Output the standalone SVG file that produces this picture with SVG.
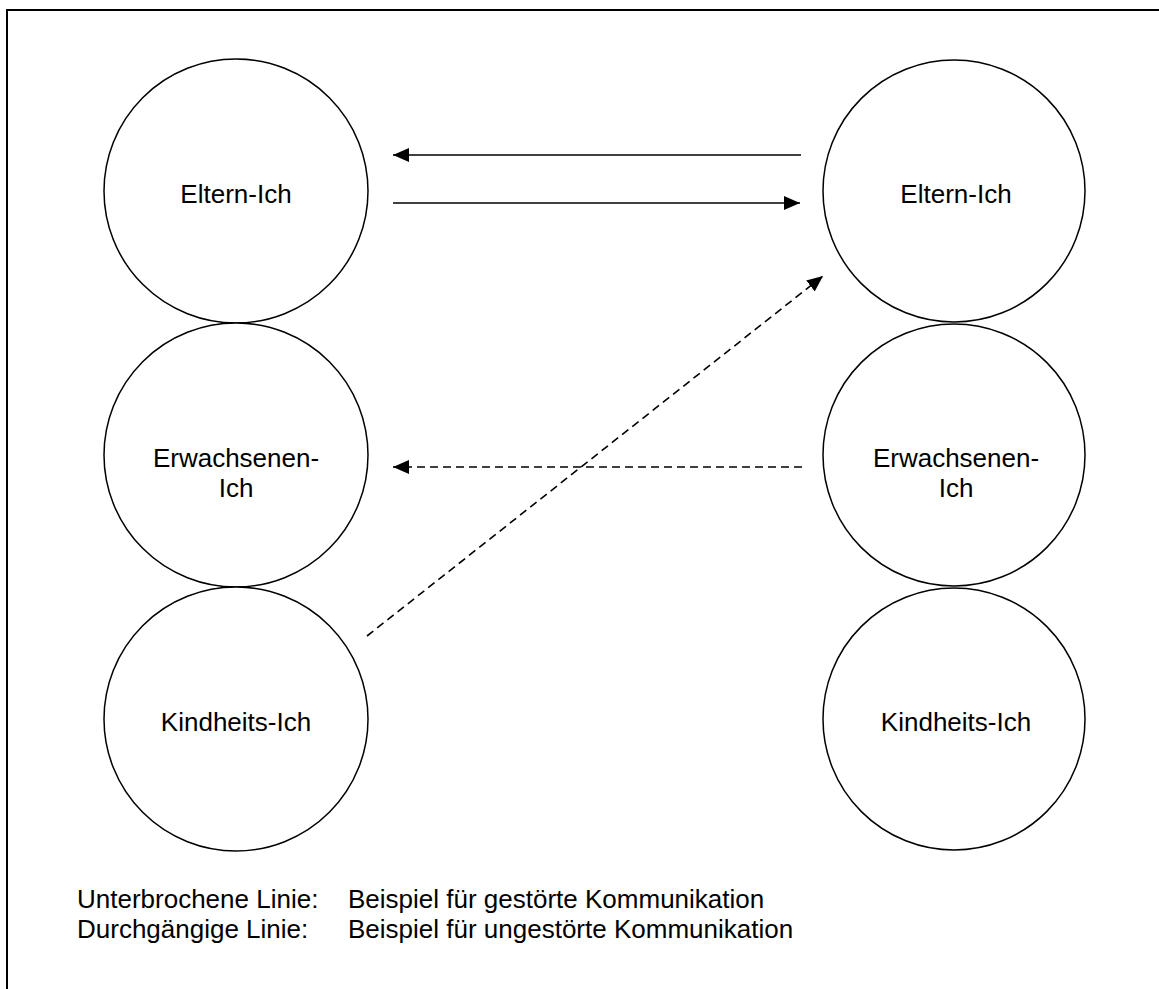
<svg xmlns="http://www.w3.org/2000/svg" width="1159" height="989" viewBox="0 0 1159 989">
  <style>
    .ego { fill: #ffffff; stroke: #000000; stroke-width: 1.5; }
    .lbl { font-family: "Liberation Sans", Arial, sans-serif; font-size: 26px; fill: #000000; text-anchor: middle; }
    .legend { font-family: "Liberation Sans", Arial, sans-serif; font-size: 26px; fill: #000000; }
    .solid { stroke: #000000; stroke-width: 1.6; fill: none; marker-end: url(#head); }
    .dashed { stroke: #000000; stroke-width: 1.6; fill: none; stroke-dasharray: 8 5; marker-end: url(#head); }
  </style>
  <defs>
    <marker id="head" markerUnits="userSpaceOnUse" markerWidth="16" markerHeight="14" refX="16" refY="7" orient="auto">
      <path d="M0,0 L16,7 L0,14 Z" fill="#000000"/>
    </marker>
  </defs>
  <rect width="1159" height="989" fill="#ffffff"/>
  <!-- frame: only top and left edges fall inside the page -->
  <path d="M7,989 L7,10 L1159,10" fill="none" stroke="#000000" stroke-width="2"/>

  <!-- left person -->
  <g id="left-eltern">
    <circle class="ego" cx="236" cy="191" r="132"/>
    <text class="lbl" x="236" y="203">Eltern-Ich</text>
  </g>
  <g id="left-erwachsenen">
    <circle class="ego" cx="236" cy="455" r="132"/>
    <text class="lbl" x="236" y="467">Erwachsenen-</text>
    <text class="lbl" x="236" y="497">Ich</text>
  </g>
  <g id="left-kindheits">
    <circle class="ego" cx="236" cy="719" r="132"/>
    <text class="lbl" x="236" y="731">Kindheits-Ich</text>
  </g>

  <!-- right person -->
  <g id="right-eltern">
    <circle class="ego" cx="954" cy="191" r="131"/>
    <text class="lbl" x="956" y="203">Eltern-Ich</text>
  </g>
  <g id="right-erwachsenen">
    <circle class="ego" cx="954" cy="455" r="131"/>
    <text class="lbl" x="956" y="467">Erwachsenen-</text>
    <text class="lbl" x="956" y="497">Ich</text>
  </g>
  <g id="right-kindheits">
    <circle class="ego" cx="954" cy="719" r="131"/>
    <text class="lbl" x="956" y="731">Kindheits-Ich</text>
  </g>

  <!-- transactions -->
  <g id="connectors">
    <line class="solid" x1="801" y1="155" x2="393" y2="155"/>
    <line class="solid" x1="393" y1="203" x2="800" y2="203"/>
    <line class="dashed" x1="802" y1="467" x2="393" y2="467"/>
    <line class="dashed" x1="367" y1="636" x2="823" y2="276"/>
  </g>

  <!-- legend -->
  <g id="legend">
    <text class="legend" x="77" y="908">Unterbrochene Linie:</text>
    <text class="legend" x="348" y="908">Beispiel für gestörte Kommunikation</text>
    <text class="legend" x="77" y="938">Durchgängige Linie:</text>
    <text class="legend" x="348" y="938">Beispiel für ungestörte Kommunikation</text>
  </g>
</svg>
